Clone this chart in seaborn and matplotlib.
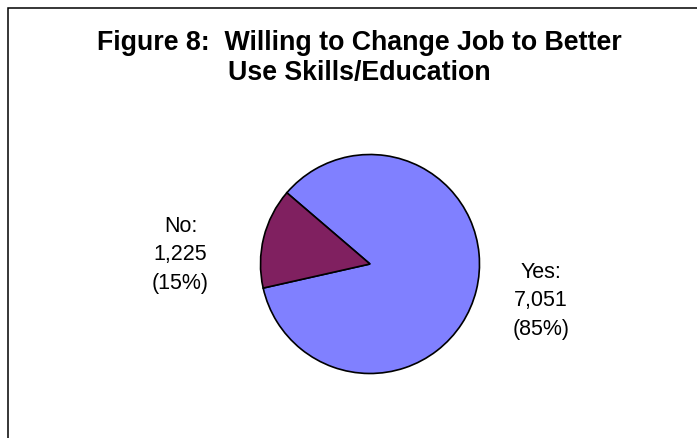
import matplotlib
matplotlib.use("Agg")
import matplotlib.pyplot as plt
import matplotlib.patches as mpatches
import seaborn as sns

categories = ["Yes", "No"]
counts = [7051, 1225]
percent_labels = ["85%", "15%"]
colors = ["#8080FF", "#802060"]
title = "Figure 8:  Willing to Change Job to Better\nUse Skills/Education"

sns.set_theme(style="white")
plt.rcParams['font.family'] = ['Liberation Sans', 'DejaVu Sans']

W, H = 697, 438
fig = plt.figure(figsize=(W / 100, H / 100), dpi=100)
fig.patch.set_facecolor("white")

# pie axes centred at (370, 264) px, radius ~109.5 px
R = 109.5
side = 2.5 * R
cx, cy = 370, H - 264
ax = fig.add_axes([(cx - side / 2) / W, (cy - side / 2) / H, side / W, side / H])
wedges, _ = ax.pie(counts, colors=colors, startangle=192.7, counterclock=True,
                   wedgeprops=dict(edgecolor="black", linewidth=1.2))
ax.set_xlim(-1.25, 1.25)
ax.set_ylim(-1.25, 1.25)
ax.set_aspect("equal")
ax.axis("off")

label_pos = {"Yes": (1.562, -0.335), "No": (-1.73, 0.085)}
for cat, n, p in zip(categories, counts, percent_labels):
    x, y = label_pos[cat]
    ax.text(x, y, f"{cat}:\n{n:,}\n({p})", ha="center", va="center",
            fontsize=15.5, linespacing=1.47, color="black")

fig.text(359 / W, 1 - 58.0 / H, title, ha="center", va="center",
         fontsize=19.3, fontweight="bold", linespacing=1.2, color="black")

border = mpatches.Rectangle((8 / W, -0.1), 1.2, (H - 8) / H + 0.1,
                            transform=fig.transFigure, fill=False,
                            edgecolor="black", linewidth=1.1)
fig.patches.append(border)

fig.savefig("out.png", dpi=100, facecolor="white")
